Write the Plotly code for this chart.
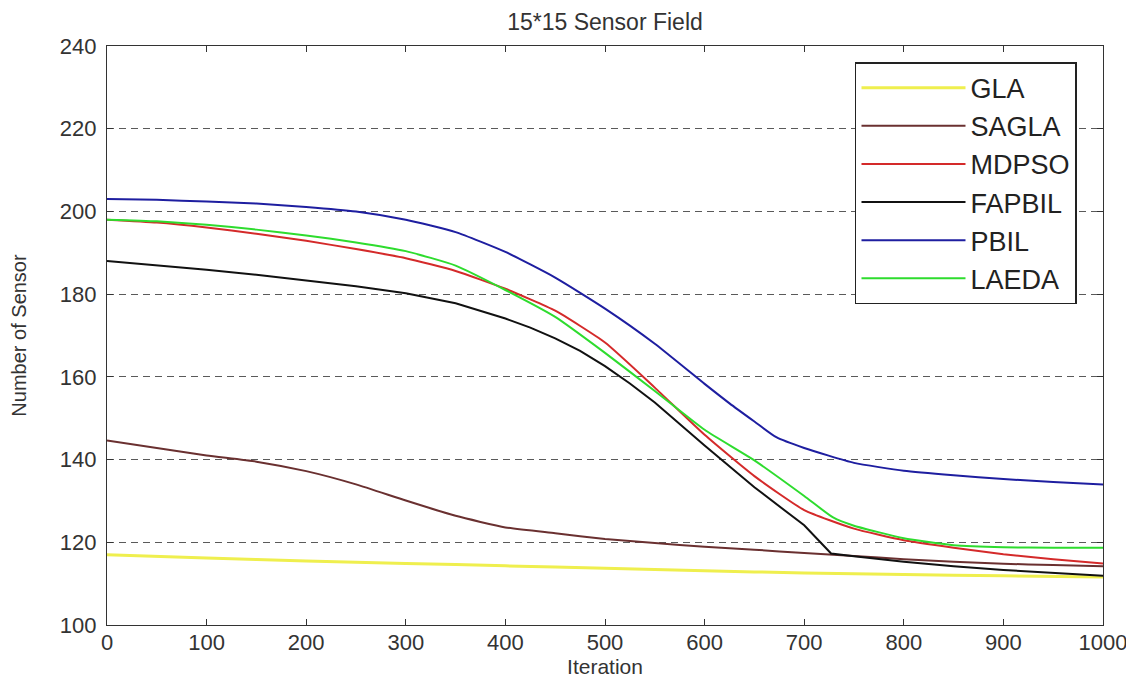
import plotly.graph_objects as go

# ---------------- data ----------------
series_names = ["GLA", "SAGLA", "MDPSO", "FAPBIL", "PBIL", "LAEDA"]
series_colors = ["#EFEF4E", "#6A3030", "#D42A2A", "#111111", "#1E1EA0", "#2EDC2E"]

iter_100 = [0, 100, 200, 300, 400, 500, 600, 700, 800, 900, 1000]
iter_50 = [0, 50, 100, 150, 200, 250, 300, 350, 400, 450, 500,
           550, 600, 650, 700, 750, 800, 850, 900, 950, 1000]

gla_x = iter_100
gla_y = [117.0, 116.2, 115.5, 114.9, 114.3, 113.7, 113.1, 112.6, 112.2, 111.9, 111.6]

sagla_x = iter_50
sagla_y = [144.6, 142.8, 141.0, 139.5, 137.2, 134.0, 130.1, 126.4, 123.6, 122.2, 120.8,
           119.8, 118.9, 118.2, 117.4, 116.7, 115.9, 115.3, 114.8, 114.5, 114.2]

mdpso_x = iter_50
mdpso_y = [198.0, 197.3, 196.1, 194.6, 192.9, 190.9, 188.7, 185.6, 181.3, 176.0, 168.3,
           157.4, 146.0, 136.0, 127.8, 123.3, 120.5, 118.7, 117.1, 115.9, 114.9]

fapbil_x = [0, 50, 100, 150, 200, 250, 300, 350, 400, 425, 450, 475, 500, 525,
            550, 575, 600, 650, 700, 727, 750, 800, 850, 900, 950, 1000]
fapbil_y = [188.0, 187.0, 185.9, 184.7, 183.3, 181.9, 180.2, 177.8, 174.1, 171.9, 169.3, 166.3, 162.6, 158.4,
            153.8, 148.6, 143.4, 133.3, 124.1, 117.3, 116.6, 115.3, 114.2, 113.3, 112.6, 111.9]

pbil_x = [0, 50, 100, 150, 200, 250, 300, 350, 400, 450, 500,
          550, 600, 625, 650, 672, 700, 750, 800, 850, 900, 950, 1000]
pbil_y = [203.0, 202.8, 202.4, 201.9, 201.1, 200.0, 198.0, 195.0, 190.2, 184.0, 176.5,
          168.0, 158.3, 153.6, 149.2, 145.4, 142.8, 139.2, 137.3, 136.2, 135.3, 134.6, 134.0]

laeda_x = [0, 50, 100, 150, 200, 250, 300, 350, 400, 450, 500,
           550, 600, 650, 700, 729, 750, 800, 850, 900, 950, 1000]
laeda_y = [198.0, 197.6, 196.8, 195.6, 194.2, 192.5, 190.4, 186.9, 181.0, 174.5, 165.8,
           156.6, 147.2, 139.8, 131.2, 126.0, 124.0, 121.0, 119.3, 118.8, 118.7, 118.7]

x_ticks = [0, 100, 200, 300, 400, 500, 600, 700, 800, 900, 1000]
y_ticks = [100, 120, 140, 160, 180, 200, 220, 240]

chart_title = "15*15 Sensor Field"
x_title = "Iteration"
y_title = "Number of Sensor"

# ---------------- figure ----------------
xs = [gla_x, sagla_x, mdpso_x, fapbil_x, pbil_x, laeda_x]
ys = [gla_y, sagla_y, mdpso_y, fapbil_y, pbil_y, laeda_y]
widths = [3, 2, 2, 2, 2, 2]
shapes = ["spline", "spline", "spline", "linear", "spline", "spline"]

fig = go.Figure()
for name, color, x, y, w, shp in zip(series_names, series_colors, xs, ys, widths, shapes):
    line = dict(color=color, width=w, shape=shp)
    if shp == "spline":
        line["smoothing"] = 0.5
    fig.add_trace(go.Scatter(
        x=x, y=y, mode="lines", name=name, legendgroup=name,
        line=line, hoverinfo="skip",
    ))

FONT = "Liberation Sans, Arial, Helvetica, sans-serif"
TXT = "#333333"

# page body has an 8px default margin, so the figure is 8px smaller than the window
FIG_W, FIG_H = 1126, 671

fig.update_layout(
    width=FIG_W, height=FIG_H, autosize=False,
    margin=dict(l=99, r=31, t=38, b=54),
    paper_bgcolor="white", plot_bgcolor="white",
    font=dict(family=FONT, color=TXT),
    showlegend=True,
    title=dict(text=chart_title, x=0.5, xref="paper", xanchor="center",
               y=1 - 13.5 / FIG_H, yref="container", yanchor="middle",
               font=dict(size=23, family=FONT, color=TXT)),
    legend=dict(x=0.751, y=0.972, xanchor="left", yanchor="top",
                bgcolor="white", bordercolor="#222222", borderwidth=1.5,
                font=dict(size=27, family=FONT, color="#222222"),
                itemwidth=104, tracegroupgap=5, traceorder="normal"),
    xaxis=dict(range=[0, 1000], tickvals=x_ticks, ticks="inside", ticklen=6,
               tickwidth=1.3, tickcolor="#333333", showline=True, linecolor="#333333",
               linewidth=1.3, mirror="ticks", showgrid=False, zeroline=False,
               automargin=False,
               tickfont=dict(size=22, family=FONT, color=TXT),
               ticklabelstandoff=-3,
               title=dict(text=x_title, standoff=2,
                          font=dict(size=21, family=FONT, color=TXT))),
    yaxis=dict(range=[100, 240], tickvals=y_ticks, ticks="inside", ticklen=6,
               tickwidth=1.3, tickcolor="#333333", showline=True, linecolor="#333333",
               linewidth=1.3, mirror="ticks", showgrid=True, gridcolor="#5a5a5a",
               gridwidth=1.4, griddash="7px,5px", zeroline=False,
               automargin=False,
               tickfont=dict(size=22, family=FONT, color=TXT),
               ticklabelstandoff=5,
               title=dict(text=y_title, standoff=30,
                          font=dict(size=20, family=FONT, color=TXT))),
)

fig.write_html("out.html")
